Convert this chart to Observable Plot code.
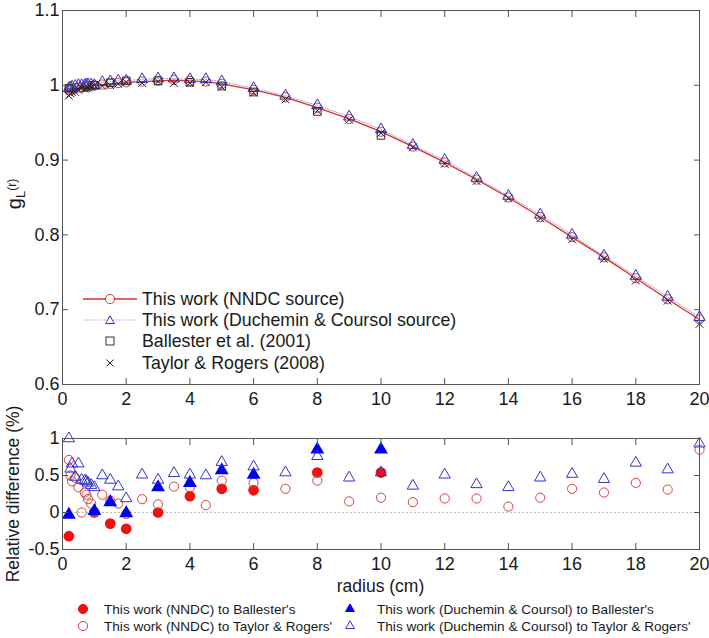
<!DOCTYPE html>
<html><head><meta charset="utf-8">
<script src="https://cdn.jsdelivr.net/npm/d3@7"></script>
<script src="https://cdn.jsdelivr.net/npm/@observablehq/plot@0.6"></script>
<style>
body{margin:0;background:#fff;font-family:"Liberation Sans",Arial,sans-serif;color:#1a1a1a}
#wrap{position:relative;width:709px;height:638px;overflow:hidden;background:#fff}
.abs{position:absolute}
.lg{position:absolute;display:flex;align-items:center;white-space:nowrap}
.lg svg{flex:none}
.rot{position:absolute;transform:translate(-50%,-50%) rotate(-90deg);white-space:nowrap;font-size:17.5px}
</style></head><body><div id="wrap"></div>
<script>
// ---- data ----
const radius = [0.2,0.25,0.3,0.4,0.5,0.6,0.7,0.75,0.8,0.9,1,1.25,1.5,1.75,2,2.5,3,3.5,4,4.5,5,6,7,8,9,10,11,12,13,14,15,16,17,18,19,20];
const gNNDC = [0.993,0.994,0.995,0.996,0.997,0.997,0.998,0.998,0.999,0.999,1.000,1.001,1.002,1.003,1.004,1.005,1.006,1.007,1.006,1.005,1.002,0.994,0.984,0.970,0.955,0.938,0.918,0.897,0.874,0.850,0.824,0.797,0.770,0.742,0.714,0.687];
const gDuchemin = [0.996,0.997,0.998,0.999,1.000,1.000,1.000,1.001,1.001,1.001,1.000,1.004,1.005,1.006,1.006,1.008,1.009,1.009,1.008,1.008,1.005,0.996,0.986,0.973,0.958,0.941,0.920,0.900,0.876,0.852,0.827,0.800,0.772,0.745,0.717,0.690];
const ballesterR = [0.2,1,1.5,2,3,4,5,6,8,10];
const gBallester = [0.996,1.000,1.0035,1.006,1.006,1.004,0.999,0.991,0.965,0.933];
const gTaylor = [0.986,0.989,0.991,0.991,0.994,0.997,0.995,0.996,0.997,0.998,1.000,0.999,1.000,1.002,1.004,1.003,1.005,1.003,1.003,1.004,0.998,0.990,0.981,0.966,0.954,0.936,0.917,0.895,0.872,0.849,0.822,0.794,0.768,0.739,0.712,0.681];
// relative differences (%)
const diffNNDC_Ball = [-0.32,0.00,-0.15,-0.22,0.00,0.22,0.32,0.30,0.54,0.54];
const diffDC_Ball = [-0.03,0.02,0.14,-0.01,0.34,0.40,0.57,0.51,0.85,0.85];
const diffNNDC_TR = [0.71,0.50,0.42,0.47,0.34,0.00,0.27,0.24,0.18,0.12,0.00,0.24,0.16,0.12,-0.02,0.18,0.11,0.35,0.34,0.10,0.43,0.40,0.32,0.43,0.15,0.20,0.14,0.19,0.19,0.08,0.20,0.32,0.27,0.40,0.31,0.85];
const diffDC_TR = [1.00,0.59,0.66,0.48,0.66,0.44,0.43,0.42,0.40,0.37,0.34,0.50,0.44,0.35,0.19,0.51,0.44,0.53,0.51,0.50,0.68,0.62,0.54,0.76,0.47,0.54,0.36,0.51,0.38,0.34,0.47,0.52,0.45,0.67,0.58,0.93];
// ticks
const xTicks = [0,2,4,6,8,10,12,14,16,18,20];
const yTicksTop = [0.6,0.7,0.8,0.9,1.0,1.1];
const yTicksBottom = [-0.5,0,0.5,1];
const legendTop = ["This work (NNDC source)","This work (Duchemin & Coursol source)","Ballester et al. (2001)","Taylor & Rogers (2008)"];
const legendBottom = ["This work (NNDC) to Ballester's","This work (NNDC) to Taylor & Rogers'","This work (Duchemin & Coursol) to Ballester's","This work (Duchemin & Coursol) to Taylor & Rogers'"];

// ---- styles ----
const FONT = '"Liberation Sans", Arial, sans-serif';
const AX = "#555";
const RED = "#e02b2b";
const RED_O = "#d9413f";
const BLUE = "#0000f0";
const BLUE_O = "#3333cc";
const TICKFS = 18;
const fmt = d => String(+(+d).toFixed(2));
const blank = () => "";

const rowsMain = radius.map((r,i)=>({r, n:gNNDC[i], d:gDuchemin[i], t:gTaylor[i], dn:diffNNDC_TR[i], dd:diffDC_TR[i]}));
const rowsBall = ballesterR.map((r,i)=>({r, b:gBallester[i], dn:diffNNDC_Ball[i], dd:diffDC_Ball[i]}));

function frameAxes(yTicks){
  return [
    Plot.frame({stroke: AX}),
    Plot.axisX({ticks: xTicks, tickSize: 0, tickPadding: 8, tickFormat: fmt, label: null, fontSize: TICKFS}),
    Plot.axisX({ticks: xTicks, tickSize: -6, tickFormat: blank, label: null, stroke: AX}),
    Plot.axisX({anchor: "top", ticks: xTicks, tickSize: -6, tickFormat: blank, label: null, stroke: AX}),
    Plot.axisY({ticks: yTicks, tickSize: 0, tickPadding: 3, tickFormat: fmt, label: null, fontSize: TICKFS}),
    Plot.axisY({ticks: yTicks, tickSize: -6, tickFormat: blank, label: null, stroke: AX}),
    Plot.axisY({anchor: "right", ticks: yTicks, tickSize: -6, tickFormat: blank, label: null, stroke: AX})
  ];
}

const topPlot = Plot.plot({
  width: 709, height: 414, marginLeft: 62, marginRight: 10, marginTop: 10, marginBottom: 30,
  style: {fontFamily: FONT, fontSize: "18px", color: "#1a1a1a", background: "transparent", overflow: "visible"},
  x: {domain: [0,20], label: null},
  y: {domain: [0.6,1.1], label: null},
  marks: [
    Plot.line(rowsMain, {x: "r", y: "d", stroke: "#a4a4c8", strokeWidth: 1, strokeDasharray: "1.5,1.5"}),
    Plot.line(rowsMain, {x: "r", y: "n", stroke: RED, strokeWidth: 1.3}),
    Plot.dot(rowsMain, {x: "r", y: "n", r: 4.6, stroke: RED_O, strokeWidth: 1, fill: "none"}),
    Plot.dot(rowsMain, {x: "r", y: "d", symbol: "triangle", r: 4.2, stroke: BLUE_O, strokeWidth: 1, fill: "none"}),
    Plot.dot(rowsBall, {x: "r", y: "b", symbol: "square", r: 4.3, stroke: "#333", strokeWidth: 1, fill: "none"}),
    Plot.dot(rowsMain, {x: "r", y: "t", symbol: "times", r: 3.6, stroke: "#222", strokeWidth: 1}),
    ...frameAxes(yTicksTop)
  ]
});

const botPlot = Plot.plot({
  width: 709, height: 185, marginLeft: 62, marginRight: 10, marginTop: 24, marginBottom: 50,
  style: {fontFamily: FONT, fontSize: "18px", color: "#1a1a1a", background: "transparent", overflow: "visible"},
  x: {domain: [0,20], label: null},
  y: {domain: [-0.5,1], label: null},
  marks: [
    Plot.ruleY([0], {stroke: "#bbb", strokeDasharray: "2,2", strokeWidth: 1}),
    Plot.dot(rowsBall, {x: "r", y: "dn", r: 4.6, fill: "#f01010", stroke: "#f01010"}),
    Plot.dot(rowsMain, {x: "r", y: "dn", r: 4.6, stroke: RED_O, strokeWidth: 1, fill: "none"}),
    Plot.dot(rowsBall, {x: "r", y: "dd", symbol: "triangle", r: 4.2, fill: BLUE, stroke: BLUE}),
    Plot.dot(rowsMain, {x: "r", y: "dd", symbol: "triangle", r: 4.2, stroke: BLUE_O, strokeWidth: 1, fill: "none"}),
    ...frameAxes(yTicksBottom)
  ]
});

const wrap = document.getElementById("wrap");
topPlot.classList.add("abs"); topPlot.style.left = "0px"; topPlot.style.top = "0px";
botPlot.classList.add("abs"); botPlot.style.left = "0px"; botPlot.style.top = "414px";
wrap.appendChild(topPlot); wrap.appendChild(botPlot);

// axis labels
function addHTML(html){ const d = document.createElement("div"); d.innerHTML = html; const el = d.firstElementChild; wrap.appendChild(el); return el; }
addHTML(`<div class="rot" style="left:14px;top:194px;font-size:20px">g<span style="font-size:13px;position:relative;top:4px">L</span><span style="font-size:12px;position:relative;top:-5px">(r)</span></div>`);
addHTML(`<div class="rot" style="left:13px;top:494px">Relative difference (%)</div>`);
addHTML(`<div class="abs" style="left:0;width:761px;top:576px;text-align:center;font-size:17.5px">radius (cm)</div>`);

// top legend
const circ = (c,fill) => `<circle cx="0" cy="0" r="4.6" fill="${fill}" stroke="${c}" stroke-width="1"/>`;
const tri = (c,fill) => `<path d="${d3.symbol(d3.symbolTriangle2, Math.PI*4.2*4.2)()}" fill="${fill}" stroke="${c}" stroke-width="1"/>`;
const sq = `<rect x="-4" y="-4" width="8" height="8" fill="none" stroke="#333"/>`;
const times = `<path d="M-3.5,-3.5L3.5,3.5M-3.5,3.5L3.5,-3.5" stroke="#222"/>`;
const topIcons = [
  `<line x1="0" x2="54" y1="10" y2="10" stroke="${RED}" stroke-width="1.3"/><g transform="translate(27,10)">${circ(RED_O,"#fff")}</g>`,
  `<line x1="0" x2="54" y1="10" y2="10" stroke="#a4a4c8" stroke-dasharray="1.5,1.5"/><g transform="translate(27,11)">${tri(BLUE_O,"#fff")}</g>`,
  `<g transform="translate(27,10)">${sq}</g>`,
  `<g transform="translate(27,10)">${times}</g>`
];
const topRowsY = [299,320,341,363];
legendTop.forEach((t,i)=>{
  addHTML(`<div class="lg" style="left:83px;top:${topRowsY[i]-10}px;height:20px;font-size:17.8px"><svg width="56" height="20">${topIcons[i]}</svg><span style="margin-left:3px">${t.replace(/&/g,"&amp;")}</span></div>`);
});
// bottom legend
const botIcons = [
  circ("#f01010","#f01010"), circ(RED_O,"none"), tri(BLUE,BLUE), tri(BLUE_O,"none")
];
const botPos = [[83,609],[83,626],[350,609],[350,626]];
legendBottom.forEach((t,i)=>{
  const [x,y] = botPos[i];
  addHTML(`<div class="lg" style="left:${x-10}px;top:${y-9}px;height:18px;font-size:13.6px"><svg width="20" height="18"><g transform="translate(10,9)">${botIcons[i]}</g></svg><span style="margin-left:${i<2?11:17}px">${t.replace(/&/g,"&amp;")}</span></div>`);
});
</script></body></html>
